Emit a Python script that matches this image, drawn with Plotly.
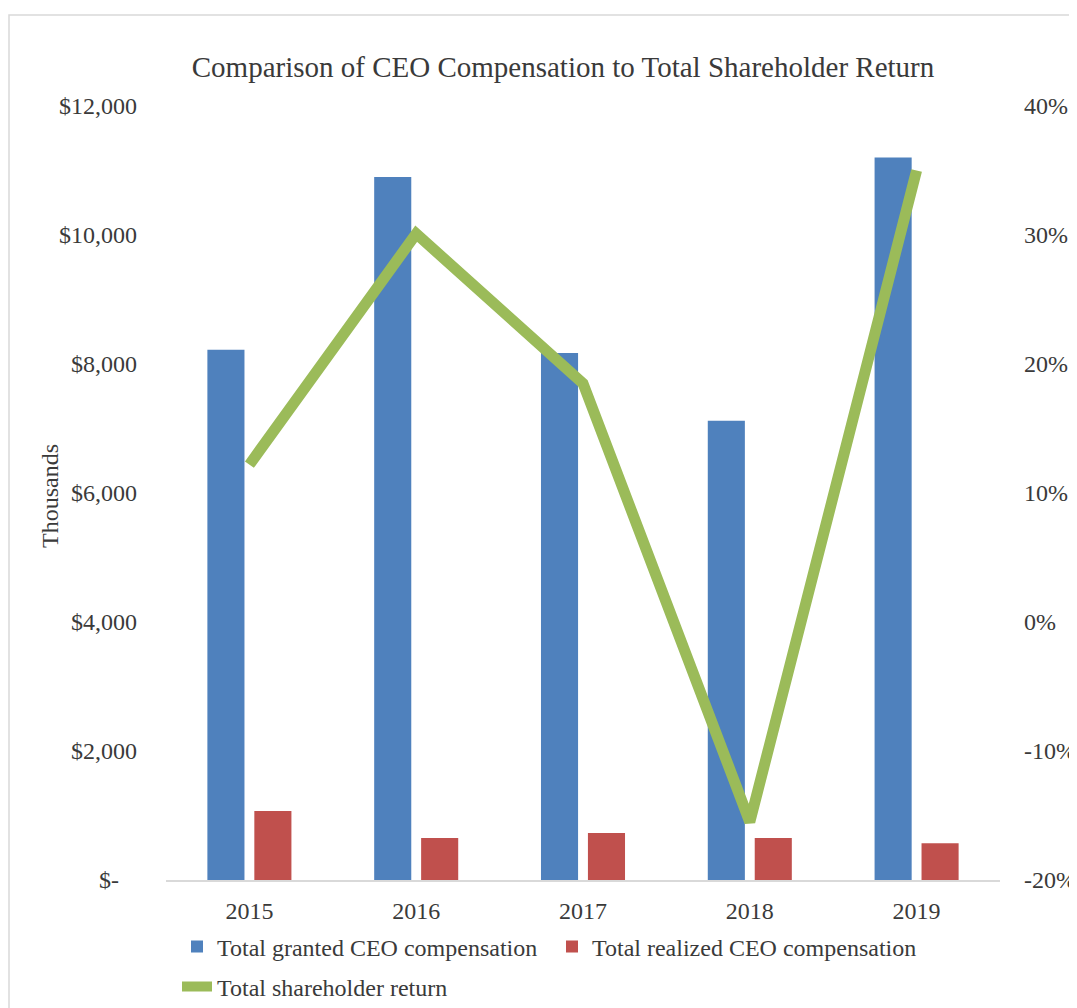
import plotly.graph_objects as go

years = ["2015", "2016", "2017", "2018", "2019"]
granted = [8220, 10900, 8170, 7120, 11200]
realized = [1070, 650, 730, 650, 570]
tsr = [12.2, 30.1, 18.5, -15.5, 35.0]

left_tickvals = [0, 2000, 4000, 6000, 8000, 10000, 12000]
left_ticktext = ["$-\u00a0\u00a0\u00a0", "$2,000", "$4,000", "$6,000", "$8,000", "$10,000", "$12,000"]
right_tickvals = [-20, -10, 0, 10, 20, 30, 40]
right_ticktext = ["-20%", "-10%", "0%", "10%", "20%", "30%", "40%"]

FONT = "Liberation Serif"
TXT = "#3a3a3a"

W, H = 1077, 1008
OFF = 8  # page body margin
L, R, T, B = 158, 85, 98, 136
pw, ph = W - L - R, H - T - B


def px(x_page):
    return (x_page - OFF - L) / pw


def py(y_page):
    return (H - B - (y_page - OFF)) / ph


fig = go.Figure()
fig.add_trace(go.Bar(x=years, y=granted, name="Total granted CEO compensation",
                     marker=dict(color="#4F81BD", line=dict(width=0)), legend="legend"))
fig.add_trace(go.Bar(x=years, y=realized, name="Total realized CEO compensation",
                     marker=dict(color="#C0504D", line=dict(width=0)), legend="legend"))
fig.add_trace(go.Scatter(x=years, y=tsr, name="Total shareholder return", yaxis="y2",
                         mode="lines", line=dict(color="#9BBB59", width=11),
                         legend="legend2"))

legend_common = dict(orientation="h", xanchor="left", yanchor="middle",
                     font=dict(size=24, family=FONT, color=TXT),
                     bgcolor="rgba(0,0,0,0)", traceorder="normal")

fig.update_layout(
    width=W, height=H,
    margin=dict(l=L, r=R, t=T, b=B, autoexpand=False),
    paper_bgcolor="white", plot_bgcolor="white",
    font=dict(family=FONT, color=TXT, size=24),
    title=dict(text="Comparison of CEO Compensation to Total Shareholder Return",
               x=0.5 + (563 - 8 - W / 2) / W, xanchor="center",
               y=1 - 59 / H, yanchor="middle",
               font=dict(size=29, family=FONT, color=TXT)),
    barmode="group", bargap=0.437, bargroupgap=0.21,
    showlegend=True,
    legend=dict(x=px(177), y=py(947), entrywidth=330, entrywidthmode="pixels",
                **legend_common),
    legend2=dict(x=px(177), y=py(987), **legend_common),
    xaxis=dict(showgrid=False, showline=True, linecolor="#D9D9D9", linewidth=1.5,
               ticks="", tickfont=dict(size=24), ticklabelstandoff=8, zeroline=False),
    yaxis=dict(range=[0, 12000], tickvals=left_tickvals, ticktext=left_ticktext,
               showgrid=False, zeroline=False, showline=False, ticks="",
               ticklabelstandoff=28, tickfont=dict(size=24)),
    yaxis2=dict(range=[-20, 40], tickvals=right_tickvals, ticktext=right_ticktext,
                overlaying="y", side="right", showgrid=False, zeroline=False,
                showline=False, ticks="", ticklabelstandoff=23, tickfont=dict(size=24)),
    annotations=[dict(text="Thousands", xref="paper", yref="paper",
                      x=px(50), y=py(496), xanchor="center", yanchor="middle",
                      textangle=-90, showarrow=False,
                      font=dict(size=24, family=FONT, color=TXT))],
    shapes=[dict(type="rect", xref="paper", yref="paper",
                 x0=px(9), x1=px(1095), y0=py(1025), y1=py(15),
                 line=dict(color="#D9D9D9", width=1.5), fillcolor="rgba(0,0,0,0)",
                 layer="below")],
)

fig.write_html("out.html")
